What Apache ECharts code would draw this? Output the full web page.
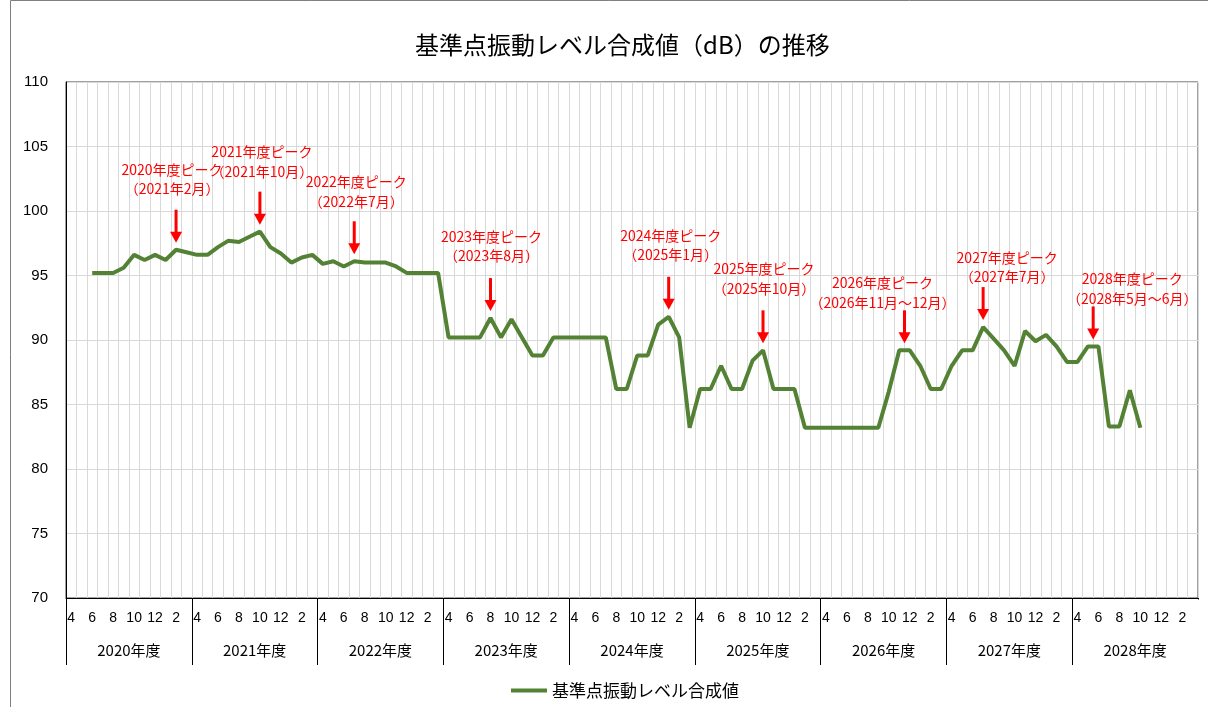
<!DOCTYPE html>
<html>
<head>
<meta charset="utf-8">
<script src="https://cdn.jsdelivr.net/npm/echarts@6/dist/echarts.min.js"></script>
</head>
<body style="margin:0">
<div id="main" style="width:1208px;height:707px;"></div>
<script type="text/javascript">
    // month labels of one fiscal year (April start) and the fiscal years shown
    const monthNames = ['4', '5', '6', '7', '8', '9', '10', '11', '12', '1', '2', '3'];
    const fiscalYears = ['2020年度', '2021年度', '2022年度', '2023年度', '2024年度', '2025年度', '2026年度', '2027年度', '2028年度'];

    // 基準点振動レベル合成値 (dB), one value per month from 2020/4
    const level = [
        null, null, 95.2, 95.2, 95.2, 95.6, 96.6, 96.2, 96.6, 96.2, 97.0, 96.8,
        96.6, 96.6, 97.2, 97.7, 97.6, 98.0, 98.4, 97.2, 96.7, 96.0, 96.4, 96.6,
        95.9, 96.1, 95.7, 96.1, 96.0, 96.0, 96.0, 95.7, 95.2, 95.2, 95.2, 95.2,
        90.2, 90.2, 90.2, 90.2, 91.7, 90.2, 91.6, 90.2, 88.8, 88.8, 90.2, 90.2,
        90.2, 90.2, 90.2, 90.2, 86.2, 86.2, 88.8, 88.8, 91.2, 91.8, 90.2, 83.2,
        86.2, 86.2, 88.0, 86.2, 86.2, 88.4, 89.2, 86.2, 86.2, 86.2, 83.2, 83.2,
        83.2, 83.2, 83.2, 83.2, 83.2, 83.2, 86.0, 89.2, 89.2, 88.0, 86.2, 86.2,
        88.0, 89.2, 89.2, 91.0, 90.1, 89.2, 88.0, 90.7, 89.9, 90.4, 89.5, 88.3,
        88.3, 89.5, 89.5, 83.3, 83.3, 86.1, 83.2, null, null, null, null, null
    ];

    // yearly peaks: first and last month index of the peak, and the two label lines
    const peakFrom = [10, 18, 27, 40, 57, 66, 79, 87, 97];
    const peakTo = [10, 18, 27, 40, 57, 66, 80, 87, 98];
    const peakTitle = ['2020年度ピーク', '2021年度ピーク', '2022年度ピーク', '2023年度ピーク', '2024年度ピーク',
        '2025年度ピーク', '2026年度ピーク', '2027年度ピーク', '2028年度ピーク'];
    const peakPeriod = ['（2021年2月）', '（2021年10月）', '（2022年7月）', '（2023年8月）', '（2025年1月）',
        '（2025年10月）', '（2026年11月～12月）', '（2027年7月）', '（2028年5月～6月）'];

    // label placement relative to the arrow
    const labelShift = [-4, 2, 2, 1, 2, 1, -22, 24, 39];
    const labelGap = [21, 20, 20, 22, 22, 22, 8, 10, 8];

    let months = [];
    fiscalYears.forEach(() => monthNames.forEach(m => months.push(m)));

    let peaks = peakFrom.map((f, k) => [f, peakTo[k], level[f]]);

    const jp = '"Noto Sans CJK JP", sans-serif';
    const num = '"Liberation Sans", sans-serif';

    let myChart = echarts.init(document.getElementById('main'));

    let option = {
        animation: false,
        backgroundColor: '#fff',
        title: {
            text: '基準点振動レベル合成値（dB）の推移',
            left: 410,
            top: 28,
            textStyle: {fontFamily: jp, fontSize: 24, fontWeight: 'normal', color: '#000'}
        },
        graphic: [{
            type: 'rect',
            shape: {x: 10.5, y: 0.5, width: 1300, height: 800},
            style: {fill: null, stroke: '#7f7f7f', lineWidth: 1},
            silent: true
        }, {
            // no year separator at the right end of the category axis
            type: 'rect',
            shape: {x: 1196.5, y: 599.5, width: 4, height: 70},
            style: {fill: '#fff'},
            silent: true,
            z: 100
        }],
        grid: {
            left: 66, right: 10, top: 82, bottom: 109,
            show: true, borderColor: '#404040', borderWidth: 1
        },
        legend: {
            data: ['基準点振動レベル合成値'],
            top: 677,
            left: 506,
            icon: 'rect',
            itemWidth: 36,
            itemHeight: 4,
            itemGap: 6,
            textStyle: {fontFamily: jp, fontSize: 17, color: '#000'}
        },
        xAxis: [{
            type: 'category',
            data: months,
            boundaryGap: true,
            axisLine: {lineStyle: {color: '#000', width: 1}},
            axisTick: {show: false},
            axisLabel: {interval: 1, margin: 13, fontFamily: num, fontSize: 14, color: '#000'},
            splitLine: {show: true, interval: 0, lineStyle: {color: '#d9d9d9', width: 1}}
        }, {
            type: 'category',
            data: fiscalYears,
            position: 'bottom',
            boundaryGap: true,
            axisLine: {show: false},
            axisTick: {show: true, length: 67, lineStyle: {color: '#000', width: 1}},
            axisLabel: {margin: 45, fontFamily: jp, fontSize: 15, color: '#000'},
            splitLine: {show: false}
        }],
        yAxis: {
            type: 'value',
            min: 70,
            max: 110,
            interval: 5,
            axisLine: {show: true, lineStyle: {color: '#000', width: 1}},
            axisTick: {show: false},
            axisLabel: {margin: 18, fontFamily: num, fontSize: 15, color: '#000'},
            splitLine: {lineStyle: {color: '#d9d9d9', width: 1}}
        },
        series: [{
            name: '基準点振動レベル合成値',
            type: 'line',
            data: level,
            symbol: 'none',
            connectNulls: false,
            lineStyle: {color: '#548235', width: 4},
            itemStyle: {color: '#548235'}
        }, {
            name: 'peak',
            type: 'custom',
            data: peaks,
            encode: {x: 0, y: 2},
            clip: false,
            z: 5,
            renderItem: function (params, api) {
                let k = params.dataIndex;
                let a = api.coord([api.value(0), api.value(2)]);
                let b = api.coord([api.value(1), api.value(2)]);
                let x = (a[0] + b[0]) / 2;
                let tip = a[1] - 7;
                let top = tip - 33;
                let tx = x + labelShift[k];
                let ty = top - labelGap[k];
                let txt = {fill: '#ff0000', fontFamily: jp, fontSize: 14, align: 'center', verticalAlign: 'middle'};
                return {
                    type: 'group',
                    children: [
                        {type: 'line', shape: {x1: x, y1: top, x2: x, y2: tip - 9}, style: {stroke: '#ff0000', lineWidth: 3}},
                        {type: 'polygon', shape: {points: [[x - 6, tip - 11], [x + 6, tip - 11], [x, tip]]}, style: {fill: '#ff0000'}},
                        {type: 'text', style: Object.assign({text: peakTitle[k], x: tx, y: ty - 19.5}, txt)},
                        {type: 'text', style: Object.assign({text: peakPeriod[k], x: tx, y: ty}, txt)}
                    ]
                };
            }
        }]
    };
    myChart.setOption(option);
</script>
</body>
</html>
